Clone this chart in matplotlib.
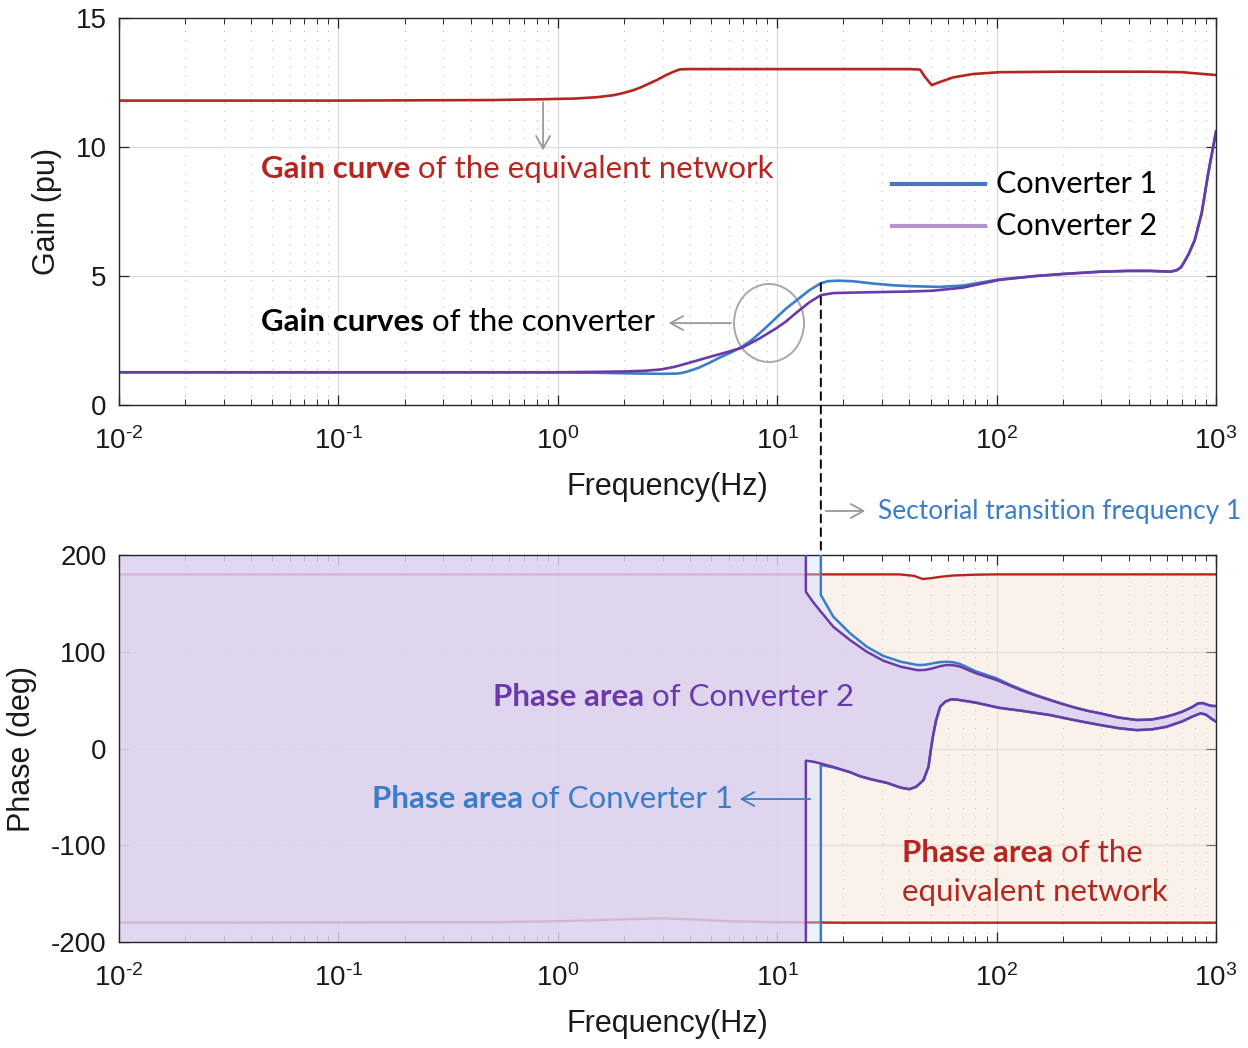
import numpy as np
import matplotlib
matplotlib.use('Agg')
import matplotlib.pyplot as plt
from matplotlib.patches import Ellipse, ConnectionPatch, FancyArrowPatch
from matplotlib.lines import Line2D

# ---- datos ----
# ganancia de la red equivalente
freq_net_gain = [0.01, 0.1, 0.5, 0.83, 1.2, 1.5, 1.8, 2.0, 2.2, 2.37, 2.83, 3.1, 3.37, 3.6,
                 4.0, 10, 20, 40, 44.8, 47, 50.6, 55.5, 63.4, 78, 103, 200, 500, 700, 1000]
gain_net = [11.8, 11.8, 11.82, 11.85, 11.88, 11.93, 12.01, 12.1, 12.2, 12.3, 12.6, 12.78,
            12.92, 13.01, 13.02, 13.02, 13.02, 13.02, 13.0, 12.73, 12.4, 12.53, 12.7,
            12.83, 12.9, 12.92, 12.92, 12.9, 12.79]

# ganancia de los convertidores
freq_c1_gain = [0.01, 0.1, 1, 1.5, 2, 3, 3.5, 3.7, 3.9, 4.4, 4.94, 5.5, 6.2, 6.9, 7.6, 8.3,
                9, 10, 11, 12.3, 14, 15.8, 17, 18.9, 22, 28, 34, 40, 55, 70, 85, 103, 150,
                200, 300, 400, 500, 617, 660, 690, 710, 750, 800, 860, 921, 960, 1000]
gain_c1 = [1.27, 1.27, 1.27, 1.25, 1.23, 1.21, 1.22, 1.25, 1.3, 1.45, 1.65, 1.85, 2.05, 2.26,
           2.5, 2.78, 3.05, 3.42, 3.75, 4.07, 4.45, 4.72, 4.8, 4.82, 4.8, 4.7, 4.64, 4.61,
           4.58, 4.63, 4.75, 4.87, 5.0, 5.08, 5.17, 5.2, 5.2, 5.17, 5.22, 5.33, 5.49, 5.85,
           6.4, 7.44, 8.98, 9.8, 10.6]
freq_c2_gain = [0.01, 0.1, 1, 2, 2.5, 2.95, 3.4, 3.9, 4.94, 5.9, 6.9, 8.3, 10, 11, 12.3, 14,
                15.8, 18, 25.6, 40, 51, 70, 103, 150, 200, 300, 400, 500, 617, 660, 690,
                710, 750, 800, 860, 921, 960, 1000]
gain_c2 = [1.27, 1.27, 1.27, 1.3, 1.33, 1.38, 1.48, 1.62, 1.87, 2.05, 2.22, 2.58, 3.0, 3.25,
           3.6, 3.98, 4.26, 4.34, 4.37, 4.4, 4.43, 4.55, 4.85, 5.0, 5.08, 5.17, 5.2, 5.2,
           5.17, 5.22, 5.33, 5.49, 5.85, 6.4, 7.44, 8.98, 9.8, 10.6]

# fase de la red equivalente (limites superior e inferior)
freq_net_ph_up = [0.01, 36, 42, 46, 50, 55.5, 63, 80, 100, 1000]
phase_net_up = [180, 180, 178.5, 175.2, 176, 177.5, 178.8, 179.7, 180, 180]
freq_net_ph_lo = [0.01, 0.5, 1, 2, 3, 4, 6, 10, 20, 1000]
phase_net_lo = [-180, -179.5, -178.5, -176.5, -175.5, -176.5, -178.5, -179.5, -180, -180]

# fase convertidor 1
freq_c1_ph_up = [15.8, 15.8, 18, 21.5, 25.6, 30.5, 36.6, 43.6, 47, 51, 55, 59, 63, 68, 80,
                 100, 115, 130, 150, 175, 200, 230, 260, 296, 360, 435, 510, 595, 650, 700,
                 780, 830, 870, 920, 960, 1000]
phase_c1_up = [200, 158.7, 136.3, 119, 105.2, 95.6, 89.7, 86.3, 86.5, 88, 89.3, 89.7, 89.3,
               87.5, 80, 72.5, 66, 61, 55.5, 50.5, 46, 42, 39, 36.4, 32, 29.5, 30, 33, 35.5,
               38, 43, 46.7, 47, 45, 44, 44]
freq_c1_ph_lo = [15.8, 15.8, 18, 21.5, 23.8, 27, 31.6, 36.6, 40, 43, 46.4, 48.9, 50.1, 51.2,
                 53, 55.3, 58.4, 62, 66, 80, 103, 130, 175, 230, 296, 360, 435, 510, 595,
                 700, 780, 850, 900, 950, 1000]
phase_c1_lo = [-200, -17, -19.5, -24.5, -28.6, -32, -35.5, -40.5, -42, -39.5, -32.6, -18.9,
               -1.6, 12.2, 29.5, 43.3, 48.5, 50.8, 50.5, 47.5, 42, 39, 34.6, 29, 24.3, 21,
               19, 19.8, 22.5, 28, 33, 36.4, 35, 31, 27.7]

# fase convertidor 2
freq_c2_ph_up = [13.5, 13.5, 14.5, 15.8, 18, 21.5, 25.6, 30.5, 36.6, 43.6, 47, 51, 55, 59,
                 63, 68, 80, 100, 115, 130, 150, 175, 200, 230, 260, 296, 360, 435, 510, 595,
                 650, 700, 780, 830, 870, 920, 960, 1000]
phase_c2_up = [200, 162, 152, 141.4, 125.9, 112, 100, 90.7, 84.5, 81, 81.2, 82.8, 85, 86.3,
               86.2, 84.8, 78, 70.8, 65, 60, 55, 50, 46, 42, 39, 36.4, 32, 29.5, 30, 33,
               35.5, 38, 43, 46.7, 47, 45, 44, 44]
freq_c2_ph_lo = [13.5, 13.5, 14.5, 15.8, 18, 21.5, 23.8, 27, 31.6, 36.6, 40, 43, 46.4, 48.9,
                 50.1, 51.2, 53, 55.3, 58.4, 62, 66, 80, 103, 130, 175, 230, 296, 360, 435,
                 510, 595, 700, 780, 850, 900, 950, 1000]
phase_c2_lo = [-200, -12.6, -13.5, -15.5, -19, -24.5, -28.6, -32, -35.5, -40.5, -42, -39.5,
               -32.6, -18.9, -1.6, 12.2, 29.5, 43.3, 48.5, 50.8, 50.5, 47.5, 42, 39, 34.6,
               29, 24.3, 21, 19, 19.8, 22.5, 28, 33, 36.4, 35, 31, 27.7]

f_sectorial = 15.8
gain_sectorial = 4.72

xticks = [0.01, 0.1, 1, 10, 100, 1000]
xtick_labels = [r'$10^{\text{-}2}$', r'$10^{\text{-}1}$', '$10^{0}$', '$10^{1}$',
                '$10^{2}$', '$10^{3}$']
gain_ticks = [0, 5, 10, 15]
phase_ticks = [-200, -100, 0, 100, 200]
phase_tick_labels = ['-200', '-100', '0', '100', '200']

# ---- estilo ----
c_net = '#B5261E'
c_c1 = '#3A7DC9'
c_c2 = '#6A3AA8'
ann_font = 'Lato'
ann_size = 22.5

plt.rcParams['font.family'] = ['Liberation Sans', 'DejaVu Sans']
plt.rcParams['mathtext.fontset'] = 'custom'
plt.rcParams['mathtext.rm'] = 'Liberation Sans'
plt.rcParams['mathtext.it'] = 'Liberation Sans'
plt.rcParams['mathtext.bf'] = 'Liberation Sans:bold'

fig = plt.figure(figsize=(12.48, 10.48), dpi=100)
ax1 = fig.add_axes([0.0954, 0.6135, 0.879, 0.3693])
ax2 = fig.add_axes([0.0954, 0.1011, 0.879, 0.3693])

flecha = '->,head_length=0.45,head_width=0.25'


def estilo_ejes(ax):
    ax.set_xscale('log')
    ax.set_xlim(0.01, 1000)
    ax.set_xticks(xticks)
    ax.set_xticklabels(xtick_labels)
    ax.set_axisbelow(True)
    ax.grid(True, which='major', color='#DCDCDC', lw=0.9, ls='-')
    ax.grid(True, which='minor', axis='x', color='#B8B8B8', lw=0.8, ls=(0, (1, 7)))
    ax.tick_params(which='both', direction='in', top=True, right=True, colors='#262626',
                   labelsize=20, labelcolor='#1a1a1a')
    ax.tick_params(which='major', length=7, width=0.9)
    ax.tick_params(which='minor', length=4, width=0.7)
    ax.tick_params(axis='x', which='major', pad=16)
    ax.tick_params(axis='y', pad=9)
    for s in ax.spines.values():
        s.set_color('#262626')
        s.set_linewidth(1.0)
    ax.set_xlabel('Frequency(Hz)', fontsize=22, labelpad=12, color='#1a1a1a')


def texto_doble(ax, x, y, negrita, resto, color, size=ann_size):
    t1 = ax.text(x, y, negrita, transform=ax.transAxes, fontsize=size, fontweight='bold',
                 color=color, va='center', ha='left', family=ann_font, zorder=5)
    ax.annotate(' ' + resto, xy=(1, 0), xycoords=t1, va='bottom', ha='left',
                fontsize=size, color=color, family=ann_font, zorder=5)
    return t1


# ---- grafica de ganancia ----
estilo_ejes(ax1)
ax1.set_ylim(0, 15)
ax1.set_yticks(gain_ticks)
ax1.set_ylabel('Gain (pu)', fontsize=22, color='#1a1a1a')
ax1.yaxis.set_label_coords(-0.052, 0.5)

ax1.plot(freq_net_gain, gain_net, color=c_net, lw=1.9)
ax1.plot(freq_c1_gain, gain_c1, color=c_c1, lw=1.9)
ax1.plot(freq_c2_gain, gain_c2, color=c_c2, lw=1.9)

texto_doble(ax1, 0.1294, 0.61, 'Gain curve', 'of the equivalent network', c_net)
texto_doble(ax1, 0.1294, 0.2145, 'Gain curves', 'of the converter', 'black')

ax1.annotate('', xy=(0.3865, 0.651), xytext=(0.3865, 0.79), xycoords='axes fraction',
             arrowprops=dict(arrowstyle=flecha, mutation_scale=20, color='#9A9A9A', lw=1.3))
ax1.add_patch(Ellipse((0.5925, 0.2119), 0.0638, 0.2016, transform=ax1.transAxes,
                      fill=False, ec='#A8A8A8', lw=1.4))
ax1.annotate('', xy=(0.4985, 0.2119), xytext=(0.5605, 0.2119), xycoords='axes fraction',
             arrowprops=dict(arrowstyle=flecha, mutation_scale=20, color='#9A9A9A', lw=1.3))

# leyenda manual
ley = [('Converter 1', '#4A74C4', 0.571), ('Converter 2', '#B394CC', 0.4625)]
for nombre, col, yy in ley:
    ax1.add_line(Line2D([0.7047, 0.7894], [yy, yy], transform=ax1.transAxes, color=col, lw=3))
    ax1.text(0.7995, yy, nombre, transform=ax1.transAxes, fontsize=22, va='center',
             family=ann_font, color='black')

# ---- grafica de fase ----
estilo_ejes(ax2)
ax2.set_ylim(-200, 200)
ax2.set_yticks(phase_ticks)
ax2.set_yticklabels(phase_tick_labels)
ax2.set_ylabel('Phase (deg)', fontsize=22, color='#1a1a1a')
ax2.yaxis.set_label_coords(-0.0747, 0.5)

ax2.fill(np.concatenate([freq_net_ph_up, freq_net_ph_lo[::-1]]),
         np.concatenate([phase_net_up, phase_net_lo[::-1]]),
         color='#F3DCCB', alpha=0.4, lw=0, zorder=1)
ax2.plot(freq_net_ph_up, phase_net_up, color=c_net, lw=1.7, zorder=1.5)
ax2.plot(freq_net_ph_lo, phase_net_lo, color=c_net, lw=1.7, zorder=1.5)

for f_up, p_up, f_lo, p_lo, col, a in [
        (freq_c1_ph_up, phase_c1_up, freq_c1_ph_lo, phase_c1_lo, '#CDE1FF', 0.4),
        (freq_c2_ph_up, phase_c2_up, freq_c2_ph_lo, phase_c2_lo, '#DDCFEF', 0.75)]:
    xs = np.concatenate([[0.01, 0.01], f_up, f_lo[::-1]])
    ys = np.concatenate([[-200, 200], p_up, p_lo[::-1]])
    ax2.fill(xs, ys, color=col, alpha=a, lw=0, zorder=2)

ax2.plot(freq_c1_ph_up, phase_c1_up, color=c_c1, lw=1.8, zorder=3)
ax2.plot(freq_c1_ph_lo, phase_c1_lo, color=c_c1, lw=1.8, zorder=3)
ax2.plot(freq_c2_ph_up, phase_c2_up, color=c_c2, lw=1.8, zorder=3)
ax2.plot(freq_c2_ph_lo, phase_c2_lo, color=c_c2, lw=1.8, zorder=3)

texto_doble(ax2, 0.341, 0.633, 'Phase area', 'of Converter 2', c_c2)
texto_doble(ax2, 0.2306, 0.3695, 'Phase area', 'of Converter 1', c_c1)
ax2.annotate('', xy=(0.5634, 0.3695), xytext=(0.6326, 0.3695), xycoords='axes fraction',
             arrowprops=dict(arrowstyle=flecha, mutation_scale=20, color=c_c1, lw=1.3),
             zorder=5)
texto_doble(ax2, 0.7138, 0.23, 'Phase area', 'of the', c_net)
ax2.text(0.7138, 0.129, 'equivalent network', transform=ax2.transAxes, fontsize=ann_size,
         va='center', color=c_net, family=ann_font, zorder=5)

# linea de la frecuencia de transicion sectorial
con = ConnectionPatch(xyA=(f_sectorial, gain_sectorial), coordsA=ax1.transData,
                      xyB=(f_sectorial, 200), coordsB=ax2.transData,
                      color='black', lw=1.4, ls=(0, (4, 3)))
fig.add_artist(con)
fig.add_artist(FancyArrowPatch(
    (823 / 1248, 1 - 511 / 1048), (868 / 1248, 1 - 511 / 1048), transform=fig.transFigure,
    arrowstyle=flecha, mutation_scale=20, color='#9A9A9A', lw=1.3))
fig.text(878 / 1248, 1 - 511 / 1048, 'Sectorial transition frequency 1', fontsize=18.9,
         color=c_c1, va='center', family=ann_font)

fig.savefig('out.png', dpi=100)
